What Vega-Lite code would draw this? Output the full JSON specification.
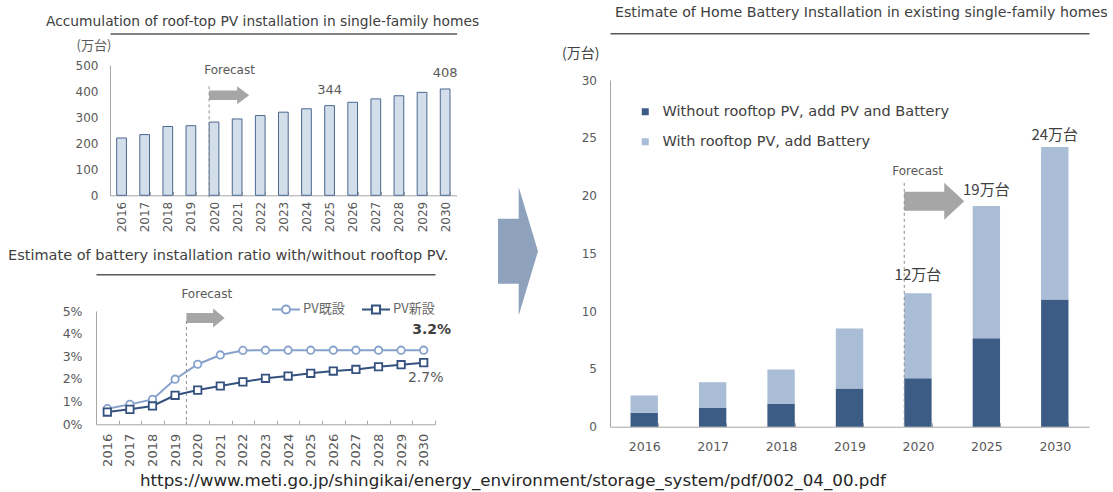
{
  "$schema": "https://vega.github.io/schema/vega-lite/v6.json",
  "background": "white",
  "padding": {"left": 8, "top": 6, "right": 4, "bottom": 2},
  "config": {
    "view": {"stroke": null},
    "axis": {"grid": false, "labelFont": "DejaVu Sans", "labelFontSize": 12, "labelColor": "#595959", "domainColor": "#a6a6a6", "tickColor": "#a6a6a6", "titleFontWeight": "normal"},
    "title": {"font": "DejaVu Sans", "fontSize": 13, "fontWeight": "normal", "color": "#404040"}
  },
  "title": {"text": "https://www.meti.go.jp/shingikai/energy_environment/storage_system/pdf/002_04_00.pdf", "orient": "bottom", "anchor": "start", "dx": 132, "offset": 7, "font": "DejaVu Sans", "fontSize": 16.7, "color": "#262626"},
  "resolve": {"scale": {"color": "independent", "shape": "independent"}},
  "spacing": 14,
  "hconcat": [
    {
      "spacing": 15,
      "resolve": {"scale": {"color": "independent", "shape": "independent"}},
      "vconcat": [
        {
          "spacing": 0,
          "bounds": "flush",
          "hconcat": [
            {"width": 14, "height": 10, "data": {"values": [{"k": 1}]}, "mark": {"type": "point", "opacity": 0}, "encoding": {}},
            {
              "width": 346.7,
              "height": 130.3,
              "title": {"text": "Accumulation of roof-top PV installation in  single-family homes", "anchor": "start", "frame": "group", "dx": -64, "offset": 5, "fontSize": 13.8},
              "resolve": {"axis": {"x": "independent", "y": "independent"}},
              "layer": [
                {
                  "data": {"values": [
                    {"year": "2016", "units": 220}, {"year": "2017", "units": 233}, {"year": "2018", "units": 264},
                    {"year": "2019", "units": 267}, {"year": "2020", "units": 281}, {"year": "2021", "units": 293},
                    {"year": "2022", "units": 306}, {"year": "2023", "units": 319}, {"year": "2024", "units": 332},
                    {"year": "2025", "units": 344}, {"year": "2026", "units": 357}, {"year": "2027", "units": 370},
                    {"year": "2028", "units": 382}, {"year": "2029", "units": 395}, {"year": "2030", "units": 408}
                  ]},
                  "mark": {"type": "bar", "fill": "#d3deeb", "stroke": "#4a6890", "strokeWidth": 1},
                  "encoding": {
                    "x": {"field": "year", "type": "ordinal", "scale": {"domain": ["2016","2017","2018","2019","2020","2021","2022","2023","2024","2025","2026","2027","2028","2029","2030"], "paddingInner": 0.58},
                          "axis": {"orient": "bottom", "title": null, "labelAngle": 270, "labelAlign": "right", "labelBaseline": "middle", "labelPadding": 10, "tickBand": "extent", "tickSize": -4}},
                    "y": {"field": "units", "type": "quantitative", "scale": {"domain": [0, 500]},
                          "axis": {"orient": "left", "title": "(万台)", "titleAngle": 0, "titleAlign": "left", "titleBaseline": "middle", "titleX": -34, "titleY": -20, "titleFont": "Noto Sans CJK JP", "titleFontSize": 13, "titleColor": "#595959", "values": [0, 100, 200, 300, 400, 500], "ticks": false, "labelPadding": 12}}
                  }
                },
                {
                  "data": {"values": [{"year": "2025", "units": 344}, {"year": "2030", "units": 408}]},
                  "mark": {"type": "text", "dy": -16, "baseline": "middle", "font": "DejaVu Sans", "fontSize": 13, "color": "#595959"},
                  "encoding": {
                    "x": {"field": "year", "type": "ordinal", "axis": null},
                    "y": {"field": "units", "type": "quantitative", "scale": {"domain": [0, 500]}, "axis": null},
                    "text": {"field": "units"}
                  }
                },
                {
                  "data": {"values": [{"year": "2020", "v": 480, "note": "Forecast"}]},
                  "mark": {"type": "text", "align": "left", "baseline": "middle", "dx": -5, "font": "DejaVu Sans", "fontSize": 12, "color": "#595959"},
                  "encoding": {
                    "x": {"field": "year", "type": "ordinal", "bandPosition": 0, "axis": {"orient": "top", "labels": false, "ticks": false, "domain": true, "domainColor": "#595959", "domainWidth": 1.5, "offset": 31.4, "title": null}},
                    "y": {"field": "v", "type": "quantitative", "scale": {"domain": [0, 500]}, "axis": null},
                    "text": {"field": "note"}
                  }
                },
                {
                  "data": {"values": [{"year": "2020", "v": 384}]},
                  "mark": {"type": "point", "shape": "M0,-0.47L2.8,-0.47L2.8,-0.9L4,0L2.8,0.9L2.8,0.47L0,0.47Z", "size": 400, "filled": true, "color": "#a6a6a6", "opacity": 1, "strokeWidth": 0},
                  "encoding": {
                    "x": {"field": "year", "type": "ordinal", "bandPosition": 0, "axis": null},
                    "y": {"field": "v", "type": "quantitative", "scale": {"domain": [0, 500]}, "axis": null}
                  }
                },
                {
                  "data": {"values": [{"year": "2020", "top": 418, "bottom": -15}]},
                  "mark": {"type": "rule", "strokeDash": [3, 3], "color": "#8c8c8c", "strokeWidth": 1},
                  "encoding": {
                    "x": {"field": "year", "type": "ordinal", "bandPosition": 0, "axis": null},
                    "y": {"field": "top", "type": "quantitative", "scale": {"domain": [0, 500]}, "axis": null},
                    "y2": {"field": "bottom"}
                  }
                }
              ]
            }
          ]
        },
        {
          "width": 339,
          "height": 113.3,
          "title": {"text": "Estimate of battery installation ratio with/without rooftop PV.", "anchor": "start", "frame": "group", "dx": -88, "offset": 11, "fontSize": 14.5},
          "resolve": {"axis": {"x": "independent", "y": "independent"}},
          "layer": [
            {
              "data": {"name": "ratio", "values": [
                {"year": "2016", "series": "PV既設", "ratio": 0.0069}, {"year": "2017", "series": "PV既設", "ratio": 0.0088},
                {"year": "2018", "series": "PV既設", "ratio": 0.011}, {"year": "2019", "series": "PV既設", "ratio": 0.0199},
                {"year": "2020", "series": "PV既設", "ratio": 0.0265}, {"year": "2021", "series": "PV既設", "ratio": 0.0306},
                {"year": "2022", "series": "PV既設", "ratio": 0.0326}, {"year": "2023", "series": "PV既設", "ratio": 0.0327},
                {"year": "2024", "series": "PV既設", "ratio": 0.0327}, {"year": "2025", "series": "PV既設", "ratio": 0.0327},
                {"year": "2026", "series": "PV既設", "ratio": 0.0327}, {"year": "2027", "series": "PV既設", "ratio": 0.0327},
                {"year": "2028", "series": "PV既設", "ratio": 0.0327}, {"year": "2029", "series": "PV既設", "ratio": 0.0327},
                {"year": "2030", "series": "PV既設", "ratio": 0.0327},
                {"year": "2016", "series": "PV新設", "ratio": 0.0054}, {"year": "2017", "series": "PV新設", "ratio": 0.0066},
                {"year": "2018", "series": "PV新設", "ratio": 0.0081}, {"year": "2019", "series": "PV新設", "ratio": 0.0128},
                {"year": "2020", "series": "PV新設", "ratio": 0.0151}, {"year": "2021", "series": "PV新設", "ratio": 0.0169},
                {"year": "2022", "series": "PV新設", "ratio": 0.0187}, {"year": "2023", "series": "PV新設", "ratio": 0.0203},
                {"year": "2024", "series": "PV新設", "ratio": 0.0213}, {"year": "2025", "series": "PV新設", "ratio": 0.0225},
                {"year": "2026", "series": "PV新設", "ratio": 0.0235}, {"year": "2027", "series": "PV新設", "ratio": 0.0242},
                {"year": "2028", "series": "PV新設", "ratio": 0.0254}, {"year": "2029", "series": "PV新設", "ratio": 0.0263},
                {"year": "2030", "series": "PV新設", "ratio": 0.0272}
              ]},
              "mark": {"type": "point", "filled": false, "size": 0, "strokeWidth": 2},
              "encoding": {
                "x": {"field": "year", "type": "ordinal", "scale": {"type": "band", "domain": ["2016","2017","2018","2019","2020","2021","2022","2023","2024","2025","2026","2027","2028","2029","2030"], "paddingInner": 0, "paddingOuter": 0},
                      "axis": {"orient": "bottom", "title": null, "labelAngle": 270, "labelAlign": "right", "labelBaseline": "middle", "labelFontSize": 13, "labelPadding": 13, "tickBand": "extent", "tickSize": -4}},
                "y": {"field": "ratio", "type": "quantitative", "scale": {"domain": [0, 0.05]},
                      "axis": {"orient": "left", "title": null, "format": ".0%", "values": [0, 0.01, 0.02, 0.03, 0.04, 0.05], "ticks": false, "labelPadding": 14, "labelFontSize": 12.5}},
                "color": {"field": "series", "type": "nominal", "scale": {"domain": ["PV既設", "PV新設"], "range": ["#86a2cc", "#34517f"]},
                          "legend": {"orient": "none", "legendX": 175, "legendY": -17, "direction": "horizontal", "title": null, "symbolSize": 784, "symbolStrokeWidth": 2, "symbolOpacity": 1, "symbolFillColor": "white", "labelFont": "Noto Sans CJK JP", "labelFontSize": 13, "labelColor": "#666666", "labelOffset": 2, "columnPadding": 13, "padding": 0}},
                "shape": {"field": "series", "type": "nominal",
                          "scale": {"domain": ["PV既設", "PV新設"], "range": ["M-1,0L-0.29,0M0.29,0A0.29,0.29 0 1,1 -0.29,0A0.29,0.29 0 1,1 0.29,0M0.29,0L1,0", "M-1,0L-0.29,0M-0.29,-0.29L0.29,-0.29L0.29,0.29L-0.29,0.29ZM0.29,0L1,0"]},
                          "legend": {"orient": "none", "legendX": 175, "legendY": -17, "direction": "horizontal", "title": null, "symbolSize": 784, "symbolStrokeWidth": 2, "symbolOpacity": 1, "symbolFillColor": "white", "labelFont": "Noto Sans CJK JP", "labelFontSize": 13, "labelColor": "#666666", "labelOffset": 2, "columnPadding": 13, "padding": 0}}
              }
            },
            {
              "data": {"name": "ratio"},
              "mark": {"type": "line", "strokeWidth": 2},
              "encoding": {
                "x": {"field": "year", "type": "ordinal", "axis": null},
                "y": {"field": "ratio", "type": "quantitative", "scale": {"domain": [0, 0.05]}, "axis": null},
                "color": {"field": "series", "type": "nominal", "legend": null}
              }
            },
            {
              "data": {"name": "ratio"},
              "transform": [{"filter": "datum.series === 'PV既設'"}],
              "mark": {"type": "point", "shape": "circle", "filled": false, "fill": "white", "size": 55, "strokeWidth": 1.8, "opacity": 1},
              "encoding": {
                "x": {"field": "year", "type": "ordinal", "axis": null},
                "y": {"field": "ratio", "type": "quantitative", "scale": {"domain": [0, 0.05]}, "axis": null},
                "color": {"field": "series", "type": "nominal", "legend": null}
              }
            },
            {
              "data": {"name": "ratio"},
              "transform": [{"filter": "datum.series === 'PV新設'"}],
              "mark": {"type": "point", "shape": "square", "filled": false, "fill": "white", "size": 55, "strokeWidth": 1.8, "opacity": 1},
              "encoding": {
                "x": {"field": "year", "type": "ordinal", "axis": null},
                "y": {"field": "ratio", "type": "quantitative", "scale": {"domain": [0, 0.05]}, "axis": null},
                "color": {"field": "series", "type": "nominal", "legend": null}
              }
            },
            {
              "data": {"values": [{"year": "2030", "v": 0.0416, "label": "3.2%"}]},
              "mark": {"type": "text", "baseline": "middle", "dx": 8, "font": "DejaVu Sans", "fontSize": 14, "fontWeight": "bold", "color": "#404040"},
              "encoding": {
                "x": {"field": "year", "type": "ordinal", "axis": null},
                "y": {"field": "v", "type": "quantitative", "scale": {"domain": [0, 0.05]}, "axis": null},
                "text": {"field": "label"}
              }
            },
            {
              "data": {"values": [{"year": "2030", "v": 0.0206, "label": "2.7%"}]},
              "mark": {"type": "text", "baseline": "middle", "dx": 2, "font": "DejaVu Sans", "fontSize": 14, "color": "#595959"},
              "encoding": {
                "x": {"field": "year", "type": "ordinal", "axis": null},
                "y": {"field": "v", "type": "quantitative", "scale": {"domain": [0, 0.05]}, "axis": null},
                "text": {"field": "label"}
              }
            },
            {
              "data": {"values": [{"year": "2020", "v": 0.0575, "note": "Forecast"}]},
              "mark": {"type": "text", "align": "left", "baseline": "middle", "dx": -5, "font": "DejaVu Sans", "fontSize": 12, "color": "#595959"},
              "encoding": {
                "x": {"field": "year", "type": "ordinal", "bandPosition": 0, "axis": {"orient": "top", "labels": false, "ticks": false, "domain": true, "domainColor": "#595959", "domainWidth": 1.5, "offset": 36.7, "title": null}},
                "y": {"field": "v", "type": "quantitative", "scale": {"domain": [0, 0.05]}, "axis": null},
                "text": {"field": "note"}
              }
            },
            {
              "data": {"values": [{"year": "2020", "v": 0.0469}]},
              "mark": {"type": "point", "shape": "M0,-0.5L2.67,-0.5L2.67,-0.95L3.83,0L2.67,0.95L2.67,0.5L0,0.5Z", "size": 400, "filled": true, "color": "#a6a6a6", "opacity": 1, "strokeWidth": 0},
              "encoding": {
                "x": {"field": "year", "type": "ordinal", "bandPosition": 0, "axis": null},
                "y": {"field": "v", "type": "quantitative", "scale": {"domain": [0, 0.05]}, "axis": null}
              }
            },
            {
              "data": {"values": [{"year": "2020", "top": 0.0456, "bottom": 0}]},
              "mark": {"type": "rule", "strokeDash": [3, 3], "color": "#8c8c8c", "strokeWidth": 1},
              "encoding": {
                "x": {"field": "year", "type": "ordinal", "bandPosition": 0, "axis": null},
                "y": {"field": "top", "type": "quantitative", "scale": {"domain": [0, 0.05]}, "axis": null},
                "y2": {"field": "bottom"}
              }
            }
          ]
        }
      ]
    },
    {
      "width": 41.5,
      "height": 372.6,
      "data": {"values": [{"k": 1}]},
      "mark": {"type": "point", "shape": "M-5.55,-6.5L-1.41,-6.5L-1.41,-12.86L2.45,0L-1.41,12.86L-1.41,6.5L-5.55,6.5Z", "size": 100, "filled": true, "color": "#8fa2bd", "opacity": 1, "strokeWidth": 0},
      "encoding": {}
    },
    {
      "spacing": 0,
      "bounds": "flush",
      "vconcat": [
        {"width": 10, "height": 14.3, "data": {"values": [{"k": 1}]}, "mark": {"type": "point", "opacity": 0}, "encoding": {}},
        {
          "width": 479,
          "height": 346.7,
          "title": {"text": "Estimate of Home Battery Installation in existing single-family homes", "anchor": "start", "frame": "group", "dx": 5, "offset": 13, "fontSize": 14.2},
          "resolve": {"axis": {"x": "independent", "y": "independent"}},
          "layer": [
            {
              "data": {"values": [
                {"year": "2016", "series": "Without rooftop PV, add PV and Battery", "value": 1.2, "ord": 1},
                {"year": "2016", "series": "With rooftop PV, add Battery", "value": 1.5, "ord": 2},
                {"year": "2017", "series": "Without rooftop PV, add PV and Battery", "value": 1.65, "ord": 1},
                {"year": "2017", "series": "With rooftop PV, add Battery", "value": 2.2, "ord": 2},
                {"year": "2018", "series": "Without rooftop PV, add PV and Battery", "value": 2.0, "ord": 1},
                {"year": "2018", "series": "With rooftop PV, add Battery", "value": 2.95, "ord": 2},
                {"year": "2019", "series": "Without rooftop PV, add PV and Battery", "value": 3.3, "ord": 1},
                {"year": "2019", "series": "With rooftop PV, add Battery", "value": 5.2, "ord": 2},
                {"year": "2020", "series": "Without rooftop PV, add PV and Battery", "value": 4.2, "ord": 1},
                {"year": "2020", "series": "With rooftop PV, add Battery", "value": 7.35, "ord": 2},
                {"year": "2025", "series": "Without rooftop PV, add PV and Battery", "value": 7.65, "ord": 1},
                {"year": "2025", "series": "With rooftop PV, add Battery", "value": 11.45, "ord": 2},
                {"year": "2030", "series": "Without rooftop PV, add PV and Battery", "value": 11.0, "ord": 1},
                {"year": "2030", "series": "With rooftop PV, add Battery", "value": 13.2, "ord": 2}
              ]},
              "mark": {"type": "bar"},
              "encoding": {
                "x": {"field": "year", "type": "ordinal", "scale": {"domain": ["2016","2017","2018","2019","2020","2025","2030"], "paddingInner": 0.6},
                      "axis": {"orient": "bottom", "title": null, "labelAngle": 0, "labelFontSize": 12.5, "labelPadding": 18, "tickBand": "extent", "tickSize": -4}},
                "y": {"field": "value", "type": "quantitative", "stack": "zero", "scale": {"domain": [0, 30]},
                      "axis": {"orient": "left", "title": "(万台)", "titleAngle": 0, "titleAlign": "left", "titleBaseline": "middle", "titleX": -48.5, "titleY": -27, "titleFont": "Noto Sans CJK JP", "titleFontSize": 14, "titleColor": "#404040", "values": [0, 5, 10, 15, 20, 25, 30], "ticks": false, "labelPadding": 13.5}},
                "color": {"field": "series", "type": "nominal", "scale": {"domain": ["Without rooftop PV, add PV and Battery", "With rooftop PV, add Battery"], "range": ["#3d5c85", "#a9bdd6"]},
                          "legend": {"orient": "none", "legendX": 28, "legendY": 39.5, "title": null, "symbolType": "square", "symbolSize": 49, "labelFont": "DejaVu Sans", "labelFontSize": 14.5, "labelColor": "#404040", "labelOffset": 10, "rowPadding": 15, "padding": 0, "labelLimit": 400}},
                "order": {"field": "ord", "type": "quantitative"}
              }
            },
            {
              "data": {"values": [{"year": "2020", "v": 13.1, "label": "12万台"}, {"year": "2025", "v": 20.5, "label": "19万台"}, {"year": "2030", "v": 25.2, "label": "24万台"}]},
              "mark": {"type": "text", "baseline": "middle", "font": "Noto Sans CJK JP", "fontSize": 15, "color": "#404040"},
              "encoding": {
                "x": {"field": "year", "type": "ordinal", "axis": null},
                "y": {"field": "v", "type": "quantitative", "scale": {"domain": [0, 30]}, "axis": null},
                "text": {"field": "label"}
              }
            },
            {
              "data": {"values": [{"year": "2020", "v": 22.1, "note": "Forecast"}]},
              "mark": {"type": "text", "align": "left", "baseline": "middle", "dx": -12, "font": "DejaVu Sans", "fontSize": 12, "color": "#595959"},
              "encoding": {
                "x": {"field": "year", "type": "ordinal", "bandPosition": 0, "axis": {"orient": "top", "labels": false, "ticks": false, "domain": true, "domainColor": "#595959", "domainWidth": 1.5, "offset": 46.7, "title": null}},
                "y": {"field": "v", "type": "quantitative", "scale": {"domain": [0, 30]}, "axis": null},
                "text": {"field": "note"}
              }
            },
            {
              "data": {"values": [{"year": "2020", "v": 19.5}]},
              "mark": {"type": "point", "shape": "M0,-0.95L4,-0.95L4,-1.85L6,0L4,1.85L4,0.95L0,0.95Z", "size": 400, "filled": true, "color": "#a6a6a6", "opacity": 1, "strokeWidth": 0},
              "encoding": {
                "x": {"field": "year", "type": "ordinal", "bandPosition": 0, "axis": null},
                "y": {"field": "v", "type": "quantitative", "scale": {"domain": [0, 30]}, "axis": null}
              }
            },
            {
              "data": {"values": [{"year": "2020", "top": 21.1, "bottom": 0}]},
              "mark": {"type": "rule", "strokeDash": [3, 3], "color": "#8c8c8c", "strokeWidth": 1},
              "encoding": {
                "x": {"field": "year", "type": "ordinal", "bandPosition": 0, "axis": null},
                "y": {"field": "top", "type": "quantitative", "scale": {"domain": [0, 30]}, "axis": null},
                "y2": {"field": "bottom"}
              }
            }
          ]
        }
      ]
    }
  ]
}
